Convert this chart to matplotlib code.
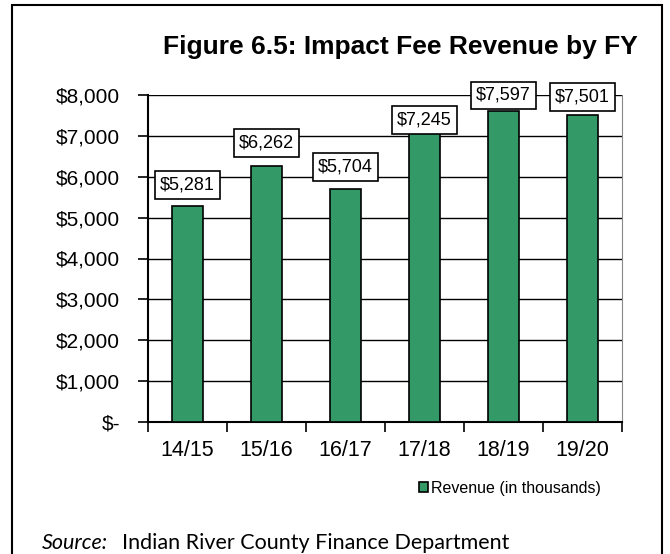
import matplotlib.pyplot as plt
from matplotlib.patches import Rectangle
from matplotlib.ticker import FuncFormatter, FixedLocator
import numpy as np

plt.rcParams['font.family'] = ['Liberation Sans', 'DejaVu Sans']

years = ['14/15', '15/16', '16/17', '17/18', '18/19', '19/20']
revenue = [5281, 6262, 5704, 7245, 7597, 7501]
# vertical offset of each value box above its bar, in pixels
label_offsets = [21, 23, 22, 6, 16, 18]

fig = plt.figure(figsize=(6.7, 5.54), dpi=100)

# outer frame
fig.patches.append(Rectangle((12 / 670, -0.05), 650 / 670, 1 - 5 / 554 + 0.05,
                             transform=fig.transFigure, fill=False,
                             edgecolor='black', linewidth=1.5))

ax = fig.add_axes([148 / 670, 1 - 422 / 554, 474 / 670, 327 / 554])
x = np.arange(len(years))
ax.bar(x, revenue, width=0.38, color='#339966', edgecolor='black',
       linewidth=1.2, zorder=3, label='Revenue (in thousands)')

ax.set_xlim(-0.5, len(years) - 0.5)
ax.set_ylim(0, 8000)
ax.set_yticks(range(0, 8001, 1000))
ax.yaxis.set_major_formatter(FuncFormatter(
    lambda v, p: '$-' if v == 0 else '${:,.0f}'.format(v)))
ax.yaxis.grid(True, color='black', linewidth=1)
ax.set_axisbelow(True)

# category labels centred, ticks at boundaries
ax.set_xticks(x)
ax.set_xticklabels(years, fontsize=15.5)
ax.tick_params(axis='x', length=0, pad=13)
ax.xaxis.set_minor_locator(FixedLocator(np.arange(-0.5, len(years), 1)))
ax.tick_params(axis='x', which='minor', length=7, width=1.2, color='black')
ax.tick_params(axis='y', length=7, width=1.2, labelsize=15, pad=13)

ax.spines['top'].set_visible(False)
ax.spines['right'].set_color('#888888')
ax.spines['left'].set_linewidth(1.5)
ax.spines['bottom'].set_linewidth(1.5)

for xi, v, off in zip(x, revenue, label_offsets):
    ax.annotate('${:,.0f}'.format(v), (xi, v), xytext=(0, off * 0.72),
                textcoords='offset points', ha='center', va='center',
                fontsize=13, zorder=5,
                bbox=dict(boxstyle='square,pad=0.3', fc='white', ec='black', lw=1.2))

fig.text(400 / 670, 1 - 47 / 554, 'Figure 6.5: Impact Fee Revenue by FY',
         ha='center', va='center', fontsize=19, fontweight='bold')

ax.legend(loc='center', bbox_to_anchor=(510 / 670, 1 - 488 / 554),
          bbox_transform=fig.transFigure, frameon=False, fontsize=11.5,
          handlelength=0.6, handleheight=0.6, handletextpad=0.2)

fig.text(42 / 670, 1 - 543 / 554, 'Source:', style='italic', fontsize=15.5,
         family=['Lato', 'DejaVu Sans'], va='center')
fig.text(122 / 670, 1 - 543 / 554, 'Indian River County Finance Department',
         fontsize=15.5, family=['Lato', 'DejaVu Sans'], va='center')

fig.savefig('out.png', dpi=100)
